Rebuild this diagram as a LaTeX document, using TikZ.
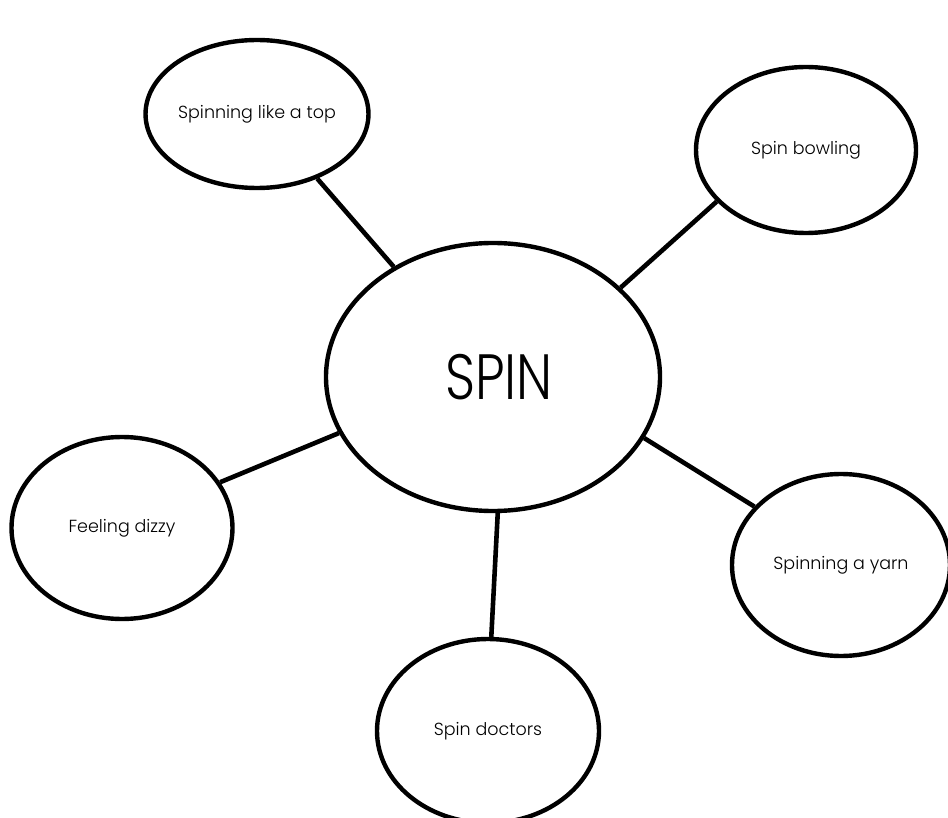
\documentclass[tikz,border=0pt]{standalone}
\usepackage{fontspec}
\setmainfont{Poppins}[UprightFont=* Light]
\newfontfamily\bigfont{Poppins}[UprightFont=* Light, FakeStretch=0.82]
\usetikzlibrary{shapes.geometric}
\tikzset{
  bubble/.style={draw=black, line width=4.4pt, ellipse, inner sep=0pt, fill=white, font=\fontsize{17.5}{21}\selectfont},
  link/.style={draw=black, line width=4.6pt},
}
\begin{document}
\begin{tikzpicture}[x=1pt,y=-1pt]
\useasboundingbox (0,0) rectangle (948,818);
\node[bubble, minimum width=334pt, minimum height=268pt, font=\bigfont\fontsize{64}{74}\selectfont] (c) at (493,377) {\hspace*{12pt}SPIN};
\node[bubble, minimum width=220pt, minimum height=148pt] (tl) at (257,114) {Spinning like a top};
\node[bubble, minimum width=220pt, minimum height=166pt] (tr) at (806,150) {Spin bowling};
\node[bubble, minimum width=221pt, minimum height=182pt] (l) at (122,528) {Feeling dizzy};
\node[bubble, minimum width=218pt, minimum height=182pt] (r) at (841,565) {Spinning a yarn};
\node[bubble, minimum width=222pt, minimum height=184pt] (b) at (488,731) {Spin doctors};
\draw[link] (tl.-47) -- (c.132);
\draw[link] (tr.210) -- (c.35);
\draw[link] (l.25) -- (c.200);
\draw[link] (r.146) -- (c.-22);
\draw[link] (b.88) -- (c.-88);
\end{tikzpicture}
\end{document}
